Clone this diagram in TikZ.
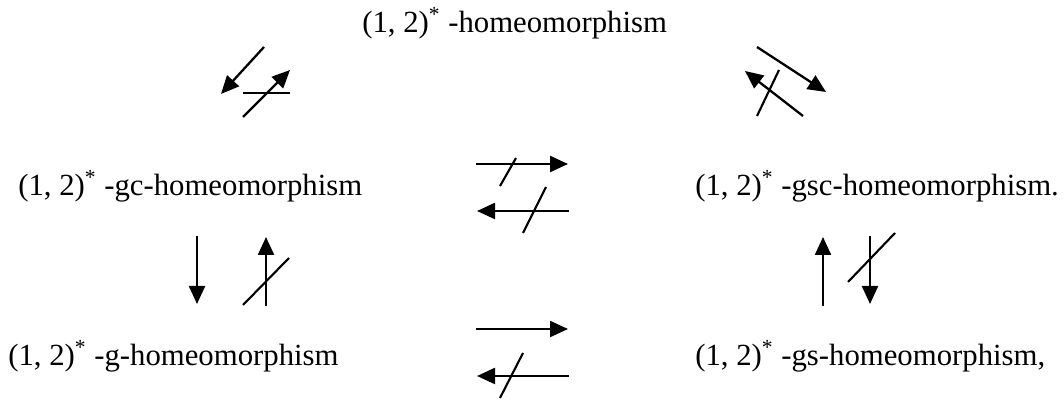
\documentclass[tikz,border=0pt]{standalone}
\usepackage{fontspec}
\setmainfont{Liberation Serif}
\usetikzlibrary{arrows.meta}

\begin{document}
\begin{tikzpicture}[scale=1,
    homeo/.style={anchor=base west, inner sep=0pt, font=\fontsize{17.5}{21}\selectfont},
    imp/.style={line width=1.3pt, -{Triangle[length=0.36cm,width=0.32cm]}},
    cut/.style={line width=1.2pt}]
  \useasboundingbox (0,0) rectangle (21.28,8);
  \node[homeo] (top) at (7.24,7.34) {(1, 2)\textsuperscript{*} -homeomorphism};
  \node[homeo] (gc)  at (0.36,4.08) {(1, 2)\textsuperscript{*} -gc-homeomorphism};
  \node[homeo] (gsc) at (13.9,4.08) {(1, 2)\textsuperscript{*} -gsc-homeomorphism.};
  \node[homeo] (g)   at (0.16,0.68) {(1, 2)\textsuperscript{*} -g-homeomorphism};
  \node[homeo] (gs)  at (13.9,0.68) {(1, 2)\textsuperscript{*} -gs-homeomorphism,};
  % top to gc and back (not)
  \draw[imp] (5.28,7.06) -- (4.42,6.12);
  \draw[imp] (4.86,5.66) -- (5.80,6.60);
  \draw[cut] (4.86,6.14) -- (5.80,6.14);
  % top to gsc and back (not)
  \draw[imp] (15.14,7.06) -- (16.52,6.16);
  \draw[imp] (16.06,5.68) -- (14.90,6.58);
  \draw[cut] (15.14,5.68) -- (15.58,6.60);
  % gc and gsc, neither way
  \draw[imp] (9.52,4.72) -- (11.36,4.72);
  \draw[cut] (10.00,4.28) -- (10.32,4.84);
  \draw[imp] (11.38,3.78) -- (9.54,3.78);
  \draw[cut] (10.46,3.34) -- (10.92,4.26);
  % gc down to g
  \draw[imp] (3.94,3.28) -- (3.94,1.92);
  \draw[imp] (5.32,1.88) -- (5.32,3.26);
  \draw[cut] (4.86,1.90) -- (5.78,2.84);
  % gs up to gsc
  \draw[imp] (16.46,1.88) -- (16.46,3.26);
  \draw[imp] (17.40,3.28) -- (17.40,1.92);
  \draw[cut] (16.96,2.36) -- (17.90,3.34);
  % g and gs
  \draw[imp] (9.52,1.42) -- (11.36,1.42);
  \draw[imp] (11.38,0.48) -- (9.54,0.48);
  \draw[cut] (10.00,0.04) -- (10.46,0.94);
\end{tikzpicture}
\end{document}
